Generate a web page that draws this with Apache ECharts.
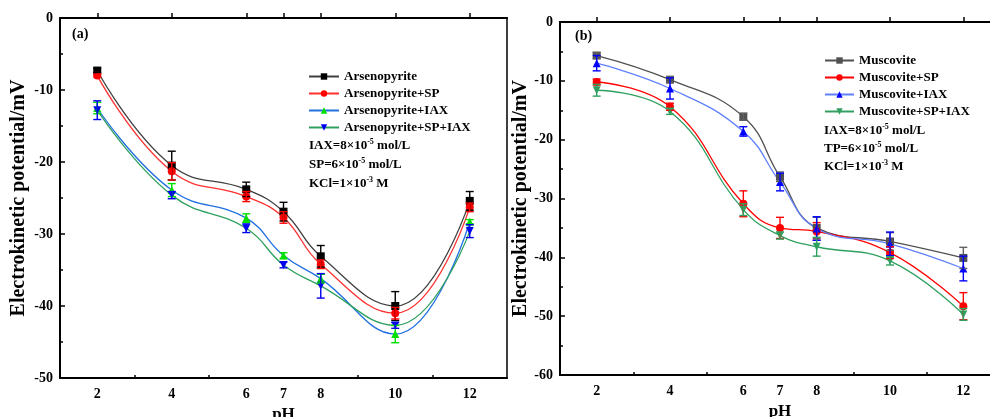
<!DOCTYPE html>
<html><head><meta charset="utf-8">
<script src="https://cdn.jsdelivr.net/npm/echarts@6/dist/echarts.min.js"></script>
<style>html,body{margin:0;padding:0;background:#fff}#c{width:990px;height:417px}</style>
</head><body><div id="c"></div>
<script>
const pH = [2, 4, 6, 7, 8, 10, 12];
const xLabelValues = [2, 4, 6, 7, 8, 10, 12];
const xMinorTickValues = [3, 5, 9, 11];

// Panel (a)
const arsenopyrite      = [-7.3, -20.5, -23.8, -26.9, -33.1, -40.0, -25.4];
const arsenopyriteErr   = [0.3, 2.0, 1.0, 1.3, 1.5, 2.0, 1.3];
const arsenoSP          = [-8.0, -21.3, -24.8, -27.7, -34.2, -41.0, -26.3];
const arsenoSPErr       = [0.2, 1.2, 0.7, 0.8, 0.6, 0.8, 0.6];
const arsenoIAX         = [-12.5, -23.9, -27.8, -33.0, -36.2, -43.9, -28.3];
const arsenoIAXErr      = [0.8, 0.9, 0.6, 0.4, 0.6, 1.2, 0.3];
const arsenoSPIAX       = [-12.8, -24.6, -29.2, -34.3, -37.2, -42.7, -29.6];
const arsenoSPIAXErr    = [1.3, 0.5, 0.6, 0.4, 1.7, 0.4, 0.9];

// Panel (b)
const muscovite         = [-5.7, -9.8, -16.1, -26.3, -35.0, -37.3, -40.1];
const muscoviteErr      = [0.5, 0.5, 0.6, 0.8, 1.8, 1.5, 1.8];
const muscoSP           = [-10.2, -14.4, -30.9, -35.0, -35.6, -39.2, -48.3];
const muscoSPErr        = [0.5, 0.6, 2.2, 1.8, 1.5, 1.0, 2.3];
const muscoIAX          = [-7.0, -11.3, -18.6, -27.2, -35.1, -37.7, -41.9];
const muscoIAXErr       = [1.3, 1.8, 0.8, 1.5, 2.0, 2.0, 2.1];
const muscoSPIAX        = [-11.6, -15.2, -31.9, -36.3, -38.2, -40.6, -49.7];
const muscoSPIAXErr     = [1.0, 0.5, 1.0, 0.6, 1.6, 0.7, 1.0];

const FONT = '"Liberation Serif","Times New Roman",serif';
const downTri = 'path://M0,0 L10,0 L5,9 Z';

const chart = echarts.init(document.getElementById('c'), null, {renderer: 'canvas'});

function lineSeries(name, data, gi, symbol, markerColor, lineColor) {
  return {
    name: name, type: 'line', xAxisIndex: gi * 2, yAxisIndex: gi,
    data: pH.map((x, i) => [x, data[i]]),
    smooth: 0.45, symbol: symbol, symbolSize: 8,
    itemStyle: {color: markerColor},
    lineStyle: {color: lineColor, width: 1.3},
    z: 3
  };
}
function errSeries(name, data, err, gi, color) {
  return {
    name: name + ' err', type: 'custom', xAxisIndex: gi * 2, yAxisIndex: gi,
    data: pH.map((x, i) => [x, data[i] - err[i], data[i] + err[i]]),
    encode: {x: 0, y: [1, 2]},
    z: 4, silent: true,
    renderItem: function (params, api) {
      const lo = api.coord([api.value(0), api.value(1)]);
      const hi = api.coord([api.value(0), api.value(2)]);
      const w = 4;
      const st = {stroke: color, lineWidth: 1.4};
      return {type: 'group', children: [
        {type: 'line', shape: {x1: lo[0], y1: lo[1], x2: hi[0], y2: hi[1]}, style: st},
        {type: 'line', shape: {x1: lo[0] - w, y1: lo[1], x2: lo[0] + w, y2: lo[1]}, style: st},
        {type: 'line', shape: {x1: hi[0] - w, y1: hi[1], x2: hi[0] + w, y2: hi[1]}, style: st}
      ]};
    }
  };
}

function xAxisPair(gi) {
  const base = {
    type: 'value', gridIndex: gi, min: 1, max: 13, position: 'bottom',
    axisLine: {show: true, lineStyle: {color: '#000', width: 2}},
    splitLine: {show: false}
  };
  return [
    Object.assign({}, base, {
      name: 'pH', nameLocation: 'middle', nameGap: 18,
      nameTextStyle: {fontFamily: FONT, fontWeight: 'bold', fontSize: 17, color: '#000'},
      axisTick: {show: true, inside: true, length: 5, customValues: xLabelValues, lineStyle: {color: '#000', width: 1.5}},
      axisLabel: {show: true, customValues: xLabelValues, fontFamily: FONT, fontWeight: 'bold', fontSize: 14, color: '#000', margin: 9}
    }),
    Object.assign({}, base, {
      axisTick: {show: true, inside: true, length: 3, customValues: xMinorTickValues, lineStyle: {color: '#000', width: 1.5}},
      axisLabel: {show: false}
    })
  ];
}
function yAxis(gi, min, max, gap) {
  return {
    type: 'value', gridIndex: gi, min: min, max: max, interval: 10,
    name: 'Electrokinetic potential/mV', nameLocation: 'middle', nameGap: gap,
    nameTextStyle: {fontFamily: FONT, fontWeight: 'bold', fontSize: 20, color: '#000'},
    axisLine: {show: true, lineStyle: {color: '#000', width: 2}},
    axisTick: {show: true, inside: true, length: 5, lineStyle: {color: '#000', width: 1.5}},
    minorTick: {show: true, splitNumber: 2, length: 3, lineStyle: {color: '#000', width: 1.5}},
    axisLabel: {fontFamily: FONT, fontWeight: 'bold', fontSize: 14, color: '#000', margin: 7},
    splitLine: {show: false}
  };
}

const richSup = {
  n: {fontFamily: FONT, fontWeight: 'bold', fontSize: 13, color: '#000'},
  s: {fontFamily: FONT, fontWeight: 'bold', fontSize: 8, color: '#000', verticalAlign: 'top', padding: [0, 0, 7, 0]}
};
function note(x, y, text) {
  return {type: 'text', left: x, top: y, z: 10,
    style: {text: text, rich: richSup, font: 'bold 13px ' + FONT, fill: '#000'}};
}

const option = {
  animation: false,
  backgroundColor: '#fff',
  grid: [
    {left: 60, top: 18, width: 447, height: 360, outerBoundsMode: 'none', containLabel: false, show: true, borderColor: '#000', borderWidth: 1.5, backgroundColor: 'transparent'},
    {left: 560, top: 22, width: 440, height: 353, outerBoundsMode: 'none', containLabel: false, show: true, borderColor: '#000', borderWidth: 1.5, backgroundColor: 'transparent'}
  ],
  xAxis: [].concat(xAxisPair(0), xAxisPair(1)),
  yAxis: [yAxis(0, -50, 0, 31), yAxis(1, -60, 0, 28)],
  legend: [
    {left: 308, top: 70, padding: 0, orient: 'vertical', itemGap: 4, itemWidth: 30, itemHeight: 8,
     textStyle: {fontFamily: FONT, fontWeight: 'bold', fontSize: 13, color: '#000'},
     data: ['Arsenopyrite', 'Arsenopyrite+SP', 'Arsenopyrite+IAX', 'Arsenopyrite+SP+IAX']},
    {left: 824, top: 54, padding: 0, orient: 'vertical', itemGap: 4, itemWidth: 29, itemHeight: 8,
     textStyle: {fontFamily: FONT, fontWeight: 'bold', fontSize: 13, color: '#000'},
     data: ['Muscovite', 'Muscovite+SP', 'Muscovite+IAX', 'Muscovite+SP+IAX']}
  ],
  graphic: [
    {type: 'text', left: 72, top: 27, style: {text: '(a)', font: 'bold 14px ' + FONT, fill: '#000'}},
    {type: 'text', left: 575, top: 29, style: {text: '(b)', font: 'bold 14px ' + FONT, fill: '#000'}},
    note(309, 138, '{n|IAX=8×10}{s|-5}{n| mol/L}'),
    note(309, 157, '{n|SP=6×10}{s|-5}{n| mol/L}'),
    note(309, 176, '{n|KCl=1×10}{s|-3}{n| M}'),
    note(824, 123, '{n|IAX=8×10}{s|-5}{n| mol/L}'),
    note(824, 141, '{n|TP=6×10}{s|-5}{n| mol/L}'),
    note(824, 159, '{n|KCl=1×10}{s|-3}{n| M}')
  ],
  series: [
    lineSeries('Arsenopyrite', arsenopyrite, 0, 'rect', '#000000', '#404040'),
    lineSeries('Arsenopyrite+SP', arsenoSP, 0, 'circle', '#ff0000', '#ff3030'),
    lineSeries('Arsenopyrite+IAX', arsenoIAX, 0, 'triangle', '#00e000', '#2070e0'),
    lineSeries('Arsenopyrite+SP+IAX', arsenoSPIAX, 0, downTri, '#0000ee', '#30a060'),
    errSeries('Arsenopyrite', arsenopyrite, arsenopyriteErr, 0, '#000000'),
    errSeries('Arsenopyrite+SP', arsenoSP, arsenoSPErr, 0, '#ff0000'),
    errSeries('Arsenopyrite+IAX', arsenoIAX, arsenoIAXErr, 0, '#00e000'),
    errSeries('Arsenopyrite+SP+IAX', arsenoSPIAX, arsenoSPIAXErr, 0, '#0000ee'),

    lineSeries('Muscovite', muscovite, 1, 'rect', '#505050', '#505050'),
    lineSeries('Muscovite+SP', muscoSP, 1, 'circle', '#ff0000', '#ff0000'),
    lineSeries('Muscovite+IAX', muscoIAX, 1, 'triangle', '#0000ff', '#6080ff'),
    lineSeries('Muscovite+SP+IAX', muscoSPIAX, 1, downTri, '#30a060', '#30a060'),
    errSeries('Muscovite', muscovite, muscoviteErr, 1, '#606060'),
    errSeries('Muscovite+SP', muscoSP, muscoSPErr, 1, '#ff0000'),
    errSeries('Muscovite+IAX', muscoIAX, muscoIAXErr, 1, '#0000ff'),
    errSeries('Muscovite+SP+IAX', muscoSPIAX, muscoSPIAXErr, 1, '#30a060')
  ]
};
chart.setOption(option);
</script></body></html>
